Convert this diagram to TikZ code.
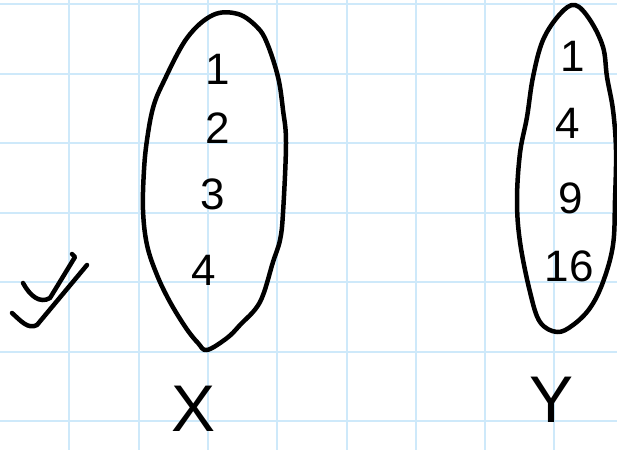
\documentclass[tikz,border=0pt]{standalone}
\usepackage{fontspec}
\setmainfont{Liberation Sans}
\definecolor{gridblue}{RGB}{206,233,250}
\tikzset{
  gridline/.style={gridblue, line width=2pt},
  hand/.style={black, line width=4.5pt, line cap=round, line join=round},
  digit/.style={inner sep=0pt, font=\fontsize{44}{44}\selectfont},
  setname/.style={inner sep=0pt, font=\fontsize{66}{66}\selectfont},
}
\begin{document}
\begin{tikzpicture}[x=1pt, y=-1pt]
\useasboundingbox (0,0) rectangle (617,450);
% grid
\foreach \k in {1,...,8} { \draw[gridline] ({69.3*\k},0) -- ({69.3*\k},450); }
\foreach \k in {0,...,6} { \draw[gridline] (0,{4+69.5*\k}) -- (617,{4+69.5*\k}); }
% left set
\draw[hand] plot[smooth cycle, tension=0.6] coordinates {
  (213,15) (238,14) (257,27) (267,43) (278,77) (283,110) (286,143) (283,213)
  (280,240) (273,262) (260,302) (240,325) (227,338) (207,350)
  (198,343) (186,328) (170,302) (157,275) (147,245) (143,210) (144,170)
  (147,140) (153,108) (163,83) (187,38)};
% right set
\draw[hand] plot[smooth cycle, tension=0.6] coordinates {
  (575,5) (590,20) (603,47) (607,77) (613,110) (616,150) (615,200)
  (613,245) (603,282) (590,308) (573,325) (557,332) (540,322) (530,292)
  (520,242) (517,200) (520,153) (527,117) (533,77) (543,40) (560,14)};
% elements of X
\node[digit] (x1) at (218,69) {1};
\node[digit] (x2) at (218,128) {2};
\node[digit] (x3) at (213,194) {3};
\node[digit] (x4) at (204,270) {4};
% elements of Y
\node[digit] (y1) at (573,56) {1};
\node[digit] (y4) at (568,123) {4};
\node[digit] (y9) at (571,198) {9};
\node[digit] (y16) at (569,266) {16};
% set names
\node[setname] (X) at (194,409) {X};
\node[setname] (Y) at (551,400) {Y};
% double check mark
\draw[hand] (23,283) .. controls (30,296) and (40,304) .. (50,298) -- (75,257) -- (72,254);
\draw[hand] (12,313) .. controls (20,320) and (28,330) .. (37,325) -- (87,265);
\end{tikzpicture}
\end{document}
